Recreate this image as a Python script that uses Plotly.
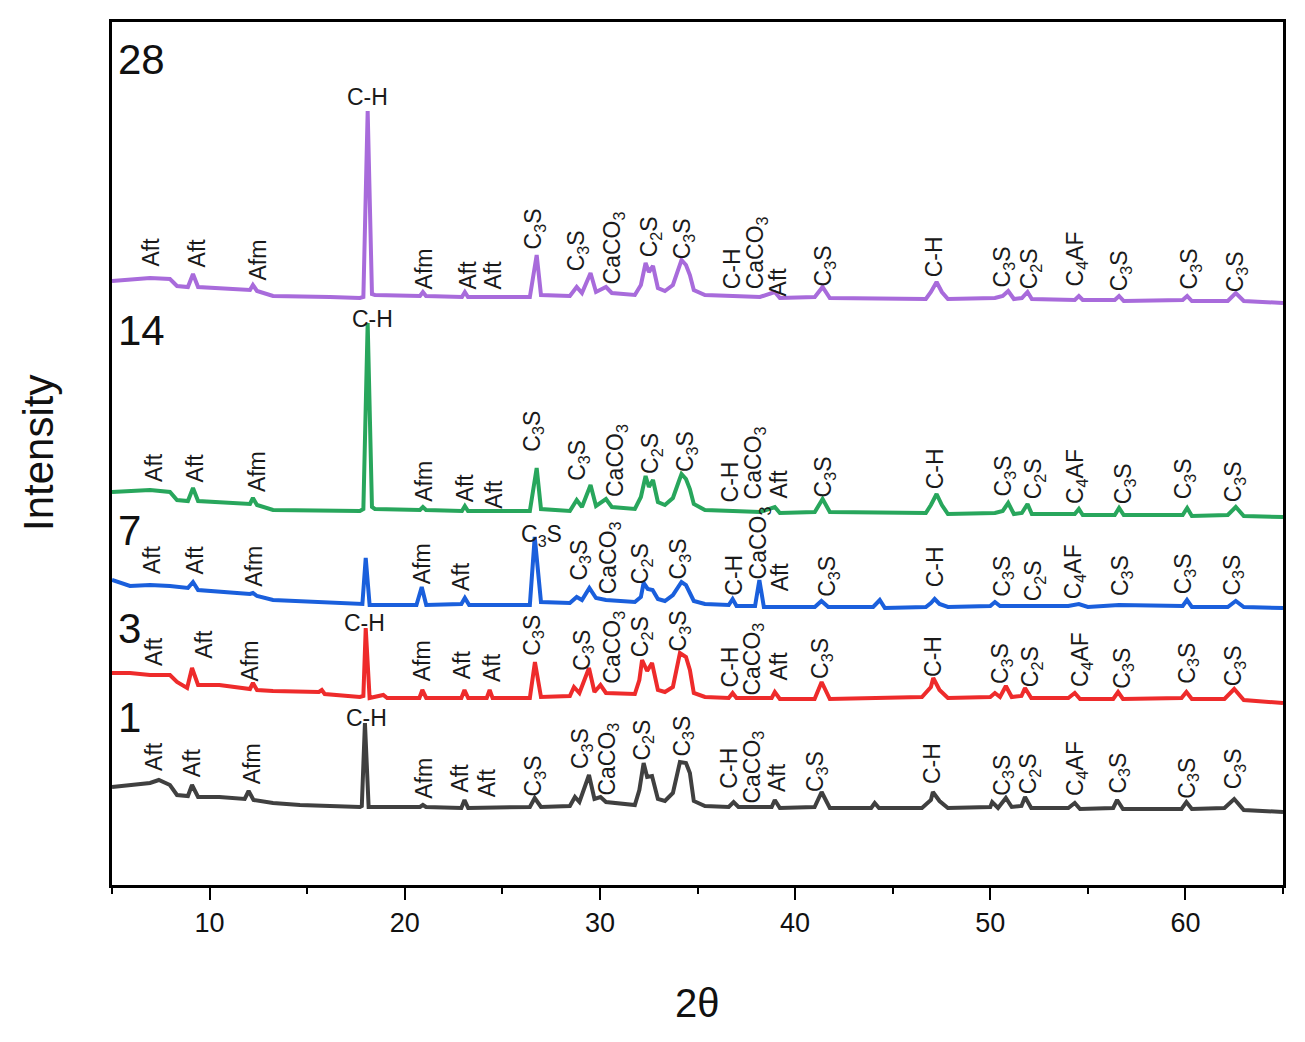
import plotly.graph_objects as go

# ---------------- data (2-theta in degrees, stacked intensity in a.u.) ----------------
names = ["28", "14", "7", "3", "1"]
colors = ["#a86bdb", "#28a65c", "#1a5fdc", "#ee2b2b", "#404040"]

tt_28 = [5.0, 5.92, 6.95, 7.97, 8.33, 8.89, 9.15, 9.41, 11.05, 12.07, 12.22, 12.43, 13.25, 14.63, 16.17,
         17.70, 17.88, 18.10, 18.32, 18.47, 20.78, 20.93, 21.09, 22.93, 23.08, 23.24, 26.41, 26.76, 26.98,
         28.46, 28.81, 29.08, 29.52, 29.80, 30.31, 30.61, 31.79, 32.10, 32.34, 32.51, 32.72, 32.97, 33.33,
         33.74, 34.05, 34.18, 34.41, 34.61, 34.81, 35.38, 36.81, 38.20, 38.96, 39.22, 41.01, 41.41, 41.78,
         44.34, 46.70, 46.96, 47.25, 47.52, 47.83, 50.24, 50.64, 50.92, 51.21, 51.62, 51.91, 52.13, 54.33,
         54.54, 54.74, 56.38, 56.60, 56.84, 59.86, 60.09, 60.33, 62.17, 62.58, 62.99, 65.0]
I_28 = [604, 605, 607, 606, 599, 598, 611, 598, 596, 595, 600, 594, 589, 589, 588,
        587, 588, 774, 591, 590, 589, 593, 589, 588, 593, 588, 588, 630, 590,
        589, 598, 592, 612, 593, 598, 592, 590, 600, 622, 613, 619, 597, 594,
        600, 617, 625, 620, 610, 595, 590, 589, 588, 593, 587, 588, 598, 587,
        586, 586, 593, 603, 593, 586, 587, 589, 594, 586, 587, 593, 586, 585,
        589, 585, 585, 589, 584, 585, 589, 584, 584, 592, 584, 582]

tt_14 = [5.0, 5.92, 6.95, 7.97, 8.33, 8.89, 9.15, 9.41, 11.05, 12.07, 12.22, 12.43, 13.25, 14.63, 16.17,
         17.70, 17.88, 18.10, 18.32, 18.47, 20.78, 20.93, 21.09, 22.93, 23.08, 23.24, 26.41, 26.76, 26.98,
         28.46, 28.81, 29.08, 29.52, 29.80, 30.31, 30.61, 31.79, 32.10, 32.34, 32.51, 32.72, 32.97, 33.33,
         33.74, 34.05, 34.18, 34.41, 34.61, 34.81, 35.38, 36.81, 38.20, 38.96, 39.22, 41.01, 41.41, 41.78,
         44.34, 46.70, 46.96, 47.25, 47.52, 47.83, 50.24, 50.64, 50.92, 51.21, 51.62, 51.91, 52.13, 54.33,
         54.54, 54.74, 56.38, 56.60, 56.84, 59.86, 60.09, 60.33, 62.17, 62.58, 62.99, 65.0]
I_14 = [393, 394, 395, 393, 385, 384, 397, 384, 382, 381, 387, 380, 375, 375, 374,
        374, 376, 562, 378, 376, 375, 378, 375, 374, 379, 374, 374, 417, 376,
        374, 385, 378, 400, 379, 386, 378, 376, 388, 409, 398, 405, 383, 380,
        387, 404, 411, 406, 396, 381, 375, 374, 373, 378, 372, 373, 386, 373,
        372, 372, 380, 391, 380, 371, 372, 374, 382, 371, 372, 381, 371, 371,
        376, 370, 370, 377, 370, 370, 377, 369, 370, 378, 369, 368]

tt_7 = [5.0, 5.92, 6.95, 7.97, 8.89, 9.15, 9.41, 10.5, 12.07, 12.22, 12.43, 13.25, 14.63, 16.17, 17.70,
        17.83, 18.0, 18.2, 20.6, 20.87, 21.1, 22.9, 23.08, 23.3, 26.41, 26.66, 26.98, 28.46, 28.81, 29.08,
        29.46, 29.80, 30.31, 31.79, 32.10, 32.24, 32.45, 32.70, 32.97, 33.33, 33.74, 34.05, 34.18, 34.41,
        34.61, 34.81, 35.38, 36.6, 36.8, 37.0, 37.95, 38.17, 38.4, 41.01, 41.35, 41.7, 44.0, 44.34, 44.6,
        46.70, 46.96, 47.15, 47.40, 47.83, 50.0, 50.24, 50.5, 54.0, 54.54, 55.0, 56.6, 59.86, 60.08, 60.33,
        62.17, 62.58, 62.99, 65.0]
I_7 = [305, 299, 300, 299, 297, 303, 295, 293, 291, 292, 289, 285, 284, 282, 281,
       281, 327, 280, 280, 298, 280, 281, 287, 280, 280, 348, 283, 282, 288, 285,
       297, 287, 285, 283, 288, 302, 296, 295, 286, 284, 290, 298, 303, 300,
       293, 284, 281, 280, 286, 279, 279, 305, 278, 278, 284, 278, 278, 285, 277,
       278, 282, 286, 281, 278, 279, 283, 279, 279, 281, 278, 280, 279, 285, 278,
       278, 284, 278, 277]

tt_3 = [5.0, 5.92, 6.95, 7.97, 8.33, 8.85, 9.10, 9.41, 10.5, 12.07, 12.22, 12.43, 13.25, 15.6, 15.75,
        15.9, 17.70, 17.88, 18.0, 18.2, 18.9, 19.1, 20.75, 20.9, 21.1, 22.9, 23.06, 23.25, 24.2, 24.35,
        24.5, 26.41, 26.67, 26.98, 28.46, 28.67, 28.95, 29.44, 29.72, 30.03, 30.31, 31.79, 32.02, 32.16,
        32.42, 32.67, 32.97, 33.33, 33.74, 34.0, 34.10, 34.41, 34.61, 34.81, 35.38, 36.6, 36.8, 37.0,
        38.8, 38.96, 39.22, 41.0, 41.36, 41.78, 46.5, 46.96, 47.08, 47.40, 47.83, 50.0, 50.24, 50.5,
        50.8, 51.1, 51.6, 51.78, 52.1, 54.0, 54.33, 54.6, 56.3, 56.55, 56.8, 59.8, 60.05, 60.33, 62.0,
        62.5, 62.99, 65.0]
I_3 = [212, 212, 210, 210, 203, 197, 217, 200, 200, 196, 202, 195, 194, 193, 195,
       191, 188, 189, 257, 187, 190, 187, 187, 195, 187, 187, 195, 187, 187, 195,
       187, 187, 223, 188, 189, 198, 192, 217, 193, 200, 192, 191, 205, 225,
       214, 222, 195, 193, 198, 220, 232, 228, 215, 192, 188, 187, 192, 187,
       187, 193, 186, 186, 203, 186, 188, 198, 207, 195, 187, 188, 192, 188,
       199, 188, 189, 197, 187, 187, 192, 186, 186, 193, 186, 187, 193, 186, 186,
       196, 185, 182]

tt_1 = [5.0, 5.92, 6.95, 7.4, 7.97, 8.33, 8.89, 9.10, 9.41, 10.5, 11.8, 12.0, 12.25, 13.25, 14.63,
        16.17, 17.70, 17.80, 17.96, 18.15, 18.47, 20.78, 20.93, 21.09, 22.9, 23.06, 23.25, 26.41, 26.66,
        26.98, 28.46, 28.72, 28.95, 29.44, 29.72, 30.03, 30.31, 31.79, 32.02, 32.24, 32.42, 32.67, 32.97,
        33.33, 33.74, 34.0, 34.10, 34.41, 34.61, 34.81, 35.38, 36.6, 36.85, 37.1, 38.8, 38.96, 39.22,
        41.0, 41.36, 41.78, 43.9, 44.08, 44.3, 46.5, 46.96, 47.06, 47.40, 47.83, 50.0, 50.1, 50.4, 50.8,
        51.1, 51.6, 51.78, 52.1, 54.0, 54.33, 54.6, 56.3, 56.5, 56.8, 59.8, 60.05, 60.33, 62.0, 62.5,
        62.99, 65.0]
I_1 = [98, 100, 102, 105, 100, 90, 89, 100, 88, 88, 86, 94, 85, 82, 80,
       79, 78, 79, 162, 78, 78, 78, 80, 78, 77, 85, 77, 78, 87,
       78, 79, 88, 83, 110, 86, 88, 83, 80, 95, 122, 108, 109, 86,
       84, 92, 118, 123, 122, 112, 84, 79, 78, 83, 78, 78, 85, 77,
       78, 93, 77, 77, 82, 77, 77, 85, 93, 84, 77, 78, 83, 77, 87,
       78, 79, 88, 77, 77, 82, 76, 77, 85, 76, 76, 83, 76, 77, 86,
       75, 73]

# phase labels: (phase, 2theta, intensity at label start) -- vertical text
labels_28 = [("Aft", 6.95, 617), ("Aft", 9.35, 617), ("Afm", 12.43, 603), ("Afm", 20.98, 595),
             ("Aft", 23.24, 595), ("Aft", 24.52, 595), ("C3S", 26.67, 635), ("C3S", 28.87, 613),
             ("CaCO3", 30.72, 600), ("C2S", 32.61, 627), ("C3S", 34.30, 625), ("C-H", 36.76, 595),
             ("CaCO3", 38.04, 595), ("Aft", 39.12, 588), ("C3S", 41.53, 598), ("C-H", 47.11, 607),
             ("C3S", 50.70, 597), ("C2S", 52.08, 595), ("C4AF", 54.44, 598), ("C3S", 56.69, 593),
             ("C3S", 60.28, 595), ("C3S", 62.63, 592)]
labels_14 = [("Aft", 7.12, 402), ("Aft", 9.25, 402), ("Afm", 12.41, 392), ("Afm", 20.95, 382),
             ("Aft", 23.08, 382), ("Aft", 24.53, 375), ("C3S", 26.58, 432), ("C3S", 28.89, 403),
             ("CaCO3", 30.85, 387), ("C2S", 32.64, 410), ("C3S", 34.44, 412), ("C-H", 36.66, 382),
             ("CaCO3", 37.94, 385), ("Aft", 39.13, 385), ("C3S", 41.53, 387), ("C-H", 47.16, 395),
             ("C3S", 50.75, 388), ("C2S", 52.28, 385), ("C4AF", 54.42, 380), ("C3S", 56.89, 380),
             ("C3S", 59.97, 385), ("C3S", 62.53, 382)]
labels_7 = [("Aft", 7.03, 310), ("Aft", 9.25, 310), ("Afm", 12.24, 297), ("Afm", 20.87, 300),
            ("Aft", 22.86, 293), ("C3S", 28.98, 303), ("CaCO3", 30.51, 290), ("C2S", 32.14, 300),
            ("C3S", 34.10, 305), ("C-H", 36.83, 288), ("CaCO3", 38.20, 305), ("Aft", 39.22, 293),
            ("C3S", 41.70, 287), ("C-H", 47.16, 297), ("C3S", 50.66, 287), ("C2S", 52.28, 283),
            ("C4AF", 54.33, 285), ("C3S", 56.73, 288), ("C3S", 59.97, 290), ("C3S", 62.44, 288)]
labels_3 = [("Aft", 7.12, 218), ("Aft", 9.68, 225), ("Afm", 12.07, 203), ("Afm", 20.87, 203),
            ("Aft", 22.92, 205), ("Aft", 24.45, 202), ("C3S", 26.58, 228), ("C3S", 29.14, 213),
            ("CaCO3", 30.68, 200), ("C2S", 32.14, 227), ("C3S", 34.10, 233), ("C-H", 36.66, 197),
            ("CaCO3", 37.85, 188), ("Aft", 39.13, 203), ("C3S", 41.35, 205), ("C-H", 47.04, 207),
            ("C3S", 50.58, 200), ("C2S", 52.12, 197), ("C4AF", 54.68, 197), ("C3S", 56.81, 195),
            ("C3S", 60.14, 200), ("C3S", 62.53, 198)]
labels_1 = [("Aft", 7.12, 113), ("Aft", 9.08, 107), ("Afm", 12.16, 100), ("Afm", 20.95, 85),
            ("Aft", 22.83, 92), ("Aft", 24.2, 87), ("C3S", 26.67, 88), ("C3S", 29.06, 115),
            ("CaCO3", 30.42, 88), ("C2S", 32.21, 123), ("C3S", 34.26, 127), ("C-H", 36.57, 95),
            ("CaCO3", 37.85, 80), ("Aft", 39.05, 92), ("C3S", 41.1, 92), ("C-H", 46.99, 100),
            ("C3S", 50.66, 88), ("C2S", 52.03, 90), ("C4AF", 54.42, 88), ("C3S", 56.60, 90),
            ("C3S", 60.14, 85), ("C3S", 62.53, 95)]

# horizontal labels on the strongest peaks: (phase, 2theta, intensity at label centre)
flat_labels = [("C-H", 18.11, 788), ("C-H", 18.36, 566), ("C3S", 27.03, 350),
               ("C-H", 17.96, 262), ("C-H", 18.05, 167)]

# curing-age labels (2theta of left edge, intensity at centre)
age_label_x = [5.22, 5.22, 5.22, 5.22, 5.22]
age_label_y = [826, 555, 355, 257, 168]

# ---------------- figure ----------------
phase_html = {"Aft": "Aft", "Afm": "Afm", "C-H": "C-H", "C3S": "C<sub>3</sub>S",
              "C2S": "C<sub>2</sub>S", "CaCO3": "CaCO<sub>3</sub>", "C4AF": "C<sub>4</sub>AF"}

FONT = "Liberation Sans, Arial, sans-serif"
series_x = [tt_28, tt_14, tt_7, tt_3, tt_1]
series_y = [I_28, I_14, I_7, I_3, I_1]
series_labels = [labels_28, labels_14, labels_7, labels_3, labels_1]

fig = go.Figure()
for name, col, xs, ys in zip(names, colors, series_x, series_y):
    fig.add_trace(go.Scatter(x=xs, y=ys, mode="lines", name=name,
                             line=dict(color=col, width=4), showlegend=False))

annotations = []
for labs in series_labels:
    for ph, x, y in labs:
        annotations.append(dict(x=x, y=y, xref="x", yref="y", text=phase_html[ph],
                                textangle=-90, showarrow=False, xanchor="center", yanchor="bottom",
                                borderpad=0,
                                font=dict(family=FONT, size=23, color="#1a1a1a")))
for ph, x, y in flat_labels:
    annotations.append(dict(x=x, y=y, xref="x", yref="y", text=phase_html[ph],
                            showarrow=False, xanchor="center", yanchor="middle",
                            font=dict(family=FONT, size=23, color="#1a1a1a")))
for nm, x, y in zip(names, age_label_x, age_label_y):
    annotations.append(dict(x=x, y=y, xref="x", yref="y", text=nm, showarrow=False,
                            xanchor="left", yanchor="middle",
                            font=dict(family=FONT, size=42, color="#111111")))

annotations.append(dict(x=0, y=0.5, xref="paper", yref="paper", text="Intensity",
                        textangle=-90, showarrow=False, xanchor="right", yanchor="middle",
                        xshift=-48, font=dict(family=FONT, size=42, color="#111111")))
annotations.append(dict(x=0.5, y=0, xref="paper", yref="paper", text="2θ",
                        showarrow=False, xanchor="center", yanchor="middle",
                        yshift=-118, font=dict(family=FONT, size=40, color="#111111")))

fig.update_layout(
    width=1305, height=1042, autosize=False,
    margin=dict(l=112, r=22, t=22, b=157),
    paper_bgcolor="white", plot_bgcolor="white",
    annotations=annotations,
    xaxis=dict(range=[5, 65], tickvals=[10, 20, 30, 40, 50, 60], ticks="outside",
               ticklen=12, tickwidth=2, tickcolor="black", showline=True, linecolor="black",
               linewidth=2.5, mirror=True, showgrid=False, zeroline=False,
               tickfont=dict(family=FONT, size=27, color="#111111"),
               minor=dict(dtick=5, tick0=5, ticks="outside", ticklen=6, tickwidth=2,
                          tickcolor="black", showgrid=False)),
    yaxis=dict(range=[0, 863], showticklabels=False, ticks="", showline=True,
               linecolor="black", linewidth=2.5, mirror=True, showgrid=False, zeroline=False),
)

fig.write_html("out.html")
